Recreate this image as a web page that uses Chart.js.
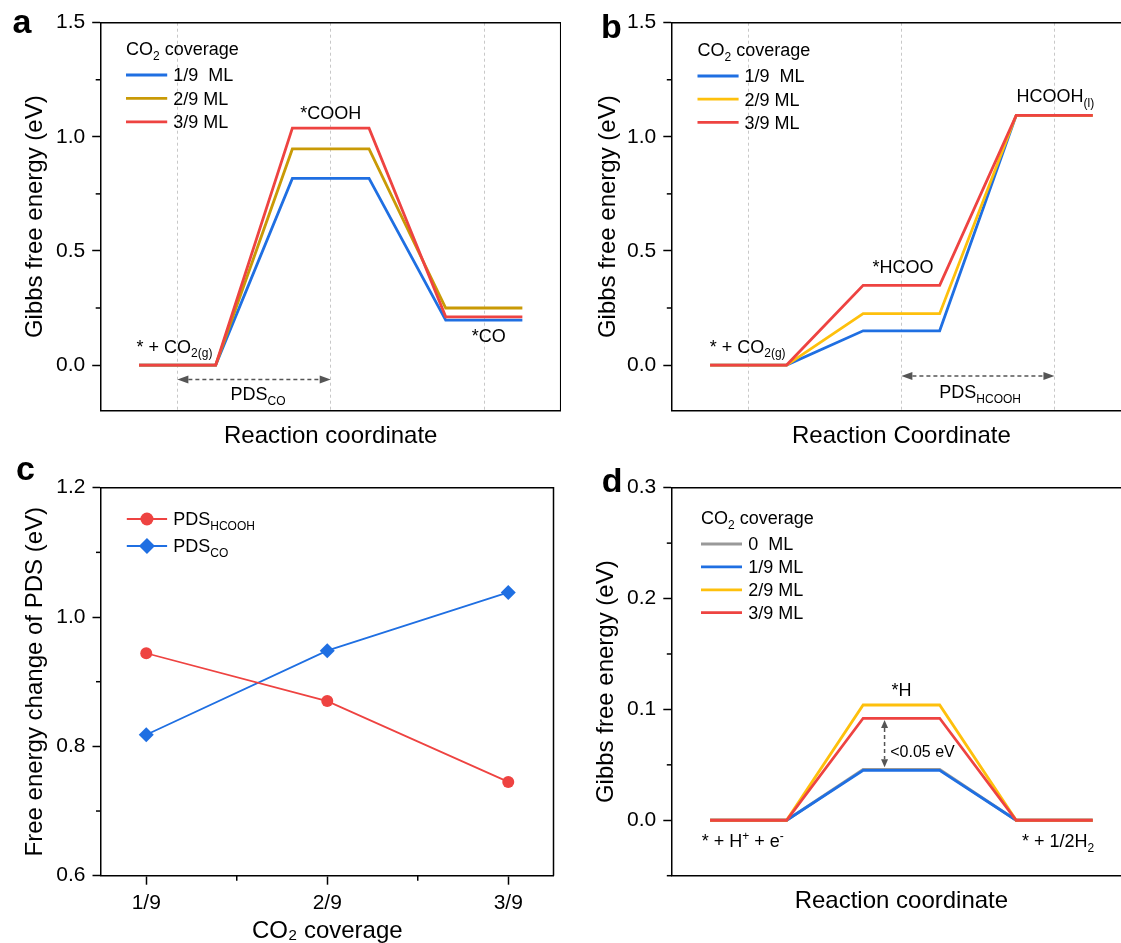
<!DOCTYPE html>
<html>
<head>
<meta charset="utf-8">
<script src="https://cdn.jsdelivr.net/npm/chart.js@4.4.0/dist/chart.umd.min.js"></script>
<style>
html, body { margin: 0; padding: 0; background: #fff; overflow: hidden; width: 1121px; height: 943px; }
canvas { position: absolute; }
</style>
</head>
<body>
<canvas id="pa" width="561" height="460" style="left:0;top:0"></canvas>
<canvas id="pb" width="571" height="460" style="left:560px;top:0"></canvas>
<canvas id="pc" width="561" height="483" style="left:0;top:460px"></canvas>
<canvas id="pd" width="571" height="483" style="left:560px;top:460px"></canvas>
<script>
// ---- data ----
// a: CO pathway, levels for * + CO2(g), *COOH, *CO
const coverLabels = ['1/9  ML', '2/9 ML', '3/9 ML'];
const coA19 = [0, 0.818, 0.197];
const coA29 = [0, 0.947, 0.250];
const coA39 = [0, 1.038, 0.211];
// b: HCOOH pathway, levels for * + CO2(g), *HCOO, HCOOH(l)
const fmB19 = [0, 0.150, 1.094];
const fmB29 = [0, 0.225, 1.094];
const fmB39 = [0, 0.349, 1.094];
// c: free energy change of the PDS vs coverage
const coverC = ['1/9', '2/9', '3/9'];
const pdsHCOOH = [0.944, 0.870, 0.745];
const pdsCO = [0.818, 0.948, 1.038];
// d: HER, levels for * + H+ + e-, *H, * + 1/2H2
const herLabels = ['0  ML', '1/9 ML', '2/9 ML', '3/9 ML'];
const herD0 = [0, 0.046, 0];
const herD19 = [0, 0.045, 0];
const herD29 = [0, 0.104, 0];
const herD39 = [0, 0.092, 0];

// ticks
const ticksAB = [0, 0.5, 1.0, 1.5];
const minorAB = [0.25, 0.75, 1.25];
const ticksC = [0.6, 0.8, 1.0, 1.2];
const minorC = [0.7, 0.9, 1.1];
const ticksD = [0, 0.1, 0.2, 0.3];
const minorD = [-0.05, 0.05, 0.15, 0.25];
const stepX = [1, 2, 3];

const FONT = '"Liberation Sans", Arial, Helvetica, sans-serif';
const BLUE = '#1f6fe2', GOLD = '#c99a06', YELLOW = '#fec00c', RED = '#ee4341', GRAY = '#999999';

Chart.defaults.font.family = FONT;
Chart.defaults.color = '#000';

// each state is a flat level from i+0.75 to i+1.25
function levels(vals) {
    return vals.flatMap((v, i) => [{x: i + 0.75, y: v}, {x: i + 1.25, y: v}]);
}

function energySet(label, vals, color, order) {
    return {label, data: levels(vals), borderColor: color, borderWidth: 2.8,
        pointRadius: 0, fill: false, tension: 0, order};
}

// "CO_{2(g)}" -> [['CO',''],['2(g)','sub']]
function parse(str) {
    const parts = [];
    const re = /([_^])\{([^}]*)\}/g;
    let last = 0, m;
    while ((m = re.exec(str))) {
        if (m.index > last) parts.push([str.slice(last, m.index), '']);
        parts.push([m[2], m[1] === '_' ? 'sub' : 'sup']);
        last = re.lastIndex;
    }
    if (last < str.length) parts.push([str.slice(last), '']);
    return parts;
}

function rich(ctx, str, x, y, size, align) {
    const small = Math.round(size * 0.68);
    const seg = parse(str).map(([t, k]) => {
        ctx.font = (k ? small : size) + 'px ' + FONT;
        return {t, k, w: ctx.measureText(t).width};
    });
    const total = seg.reduce((s, q) => s + q.w, 0);
    let cx = align === 'center' ? x - total / 2 : align === 'right' ? x - total : x;
    ctx.textAlign = 'left';
    ctx.textBaseline = 'alphabetic';
    ctx.fillStyle = '#000';
    seg.forEach(q => {
        ctx.font = (q.k ? small : size) + 'px ' + FONT;
        const dy = q.k === 'sub' ? size * 0.27 : q.k === 'sup' ? -size * 0.38 : 0;
        ctx.fillText(q.t, cx, y + dy);
        cx += q.w;
    });
}

function arrow(ctx, x1, y1, x2, y2, head, half) {
    const ang = Math.atan2(y2 - y1, x2 - x1);
    const len = Math.hypot(x2 - x1, y2 - y1);
    ctx.save();
    ctx.translate(x1, y1);
    ctx.rotate(ang);
    ctx.strokeStyle = ctx.fillStyle = '#555';
    ctx.lineWidth = 1.5;
    ctx.setLineDash([4, 3]);
    ctx.beginPath();
    ctx.moveTo(head, 0);
    ctx.lineTo(len - head, 0);
    ctx.stroke();
    ctx.setLineDash([]);
    ctx.beginPath();
    ctx.moveTo(0, 0); ctx.lineTo(head, -half); ctx.lineTo(head, half);
    ctx.fill();
    ctx.beginPath();
    ctx.moveTo(len, 0); ctx.lineTo(len - head, -half); ctx.lineTo(len - head, half);
    ctx.fill();
    ctx.restore();
}

function marker(ctx, style, x, y, r, color) {
    ctx.fillStyle = color;
    ctx.beginPath();
    if (style === 'rectRot') {
        ctx.moveTo(x - r, y); ctx.lineTo(x, y - r); ctx.lineTo(x + r, y); ctx.lineTo(x, y + r);
        ctx.closePath();
    } else {
        ctx.arc(x, y, r, 0, Math.PI * 2);
    }
    ctx.fill();
}

// per panel decorations: letter, annotations, arrows, legend, minor ticks
const decoFor = {
    pa: {
        letter: ['a', 12.5, 33],
        minorY: minorAB,
        notes: [
            {t: '*COOH', x: 2, y: 1.077, align: 'center'},
            {t: '* + CO_{2(g)}', x: 0.734, y: 0.055},
            {t: '*CO', x: 3.03, y: 0.102, align: 'center'},
            {t: 'PDS_{CO}', x: 1.526, y: -0.153, align: 'center'}
        ],
        arrows: [[1, -0.063, 2, -0.063, 11, 4]],
        legend: {title: 'CO_{2} coverage', dx: 25.3, titleDy: 32.5, dy: 52.3, gap: 23.4, len: 41.2, tx: 72.6}
    },
    pb: {
        letter: ['b', 41, 38],
        minorY: minorAB,
        notes: [
            {t: '* + CO_{2(g)}', x: 0.748, y: 0.055},
            {t: '*HCOO', x: 2.01, y: 0.4045, align: 'center'},
            {t: 'HCOOH_{(l)}', x: 2.752, y: 1.154},
            {t: 'PDS_{HCOOH}', x: 2.248, y: -0.146}
        ],
        arrows: [[2, -0.048, 3, -0.048, 11, 4]],
        legend: {title: 'CO_{2} coverage', dx: 25.7, titleDy: 33, dy: 53.3, gap: 23.2, len: 41.1, tx: 72.8}
    },
    pc: {
        letter: ['c', 16, 20],
        minorY: minorC,
        minorX: [1.5, 2.5],
        notes: [],
        arrows: [],
        legend: {dx: 25.8, dy: 31.3, gap: 27, len: 40.3, tx: 72.2, points: true}
    },
    pd: {
        letter: ['d', 41.7, 31.7],
        minorY: minorD,
        notes: [
            {t: '*H', x: 2, y: 0.112, align: 'center'},
            {t: '<0.05 eV', x: 1.927, y: 0.0571, size: 16},
            {t: '* + H^{+} + e^{-}', x: 0.695, y: -0.024},
            {t: '* + 1/2H_{2}', x: 3.26, y: -0.024, align: 'right'}
        ],
        arrows: [[1.89, 0.0905, 1.89, 0.0478, 8, 3.5]],
        legend: {title: 'CO_{2} coverage', dx: 29.2, titleDy: 36, dy: 56.3, gap: 22.9, len: 41, tx: 76.4}
    }
};

const deco = {
    id: 'deco',
    afterDraw(chart) {
        const o = decoFor[chart.canvas.id];
        const {ctx, chartArea: ca} = chart;
        const x = chart.scales.x, y = chart.scales.y;
        ctx.save();
        // top and right of the frame
        ctx.strokeStyle = '#000';
        ctx.lineWidth = 1.5;
        ctx.beginPath();
        ctx.moveTo(ca.left, ca.top);
        ctx.lineTo(ca.right, ca.top);
        ctx.lineTo(ca.right, ca.bottom);
        ctx.stroke();
        // minor ticks
        (o.minorY || []).forEach(v => {
            const py = y.getPixelForValue(v);
            ctx.beginPath(); ctx.moveTo(ca.left - 5, py); ctx.lineTo(ca.left, py); ctx.stroke();
        });
        (o.minorX || []).forEach(v => {
            const px = x.getPixelForValue(v);
            ctx.beginPath(); ctx.moveTo(px, ca.bottom); ctx.lineTo(px, ca.bottom + 5); ctx.stroke();
        });
        // panel letter
        ctx.fillStyle = '#000';
        ctx.font = 'bold 34px ' + FONT;
        ctx.textAlign = 'left';
        ctx.textBaseline = 'alphabetic';
        ctx.fillText(o.letter[0], o.letter[1], o.letter[2]);
        // annotations
        o.notes.forEach(n => rich(ctx, n.t, x.getPixelForValue(n.x), y.getPixelForValue(n.y), n.size || 18, n.align || 'left'));
        o.arrows.forEach(a => arrow(ctx, x.getPixelForValue(a[0]), y.getPixelForValue(a[1]),
            x.getPixelForValue(a[2]), y.getPixelForValue(a[3]), a[4], a[5]));
        // legend, in dataset order; dx and tx are measured from the plot's left edge
        const lg = o.legend;
        const lx = ca.left + lg.dx;
        if (lg.title) rich(ctx, lg.title, lx, ca.top + lg.titleDy, 18, 'left');
        chart.data.datasets.forEach((ds, i) => {
            const ly = ca.top + lg.dy + i * lg.gap;
            ctx.strokeStyle = ds.borderColor;
            ctx.lineWidth = lg.points ? 1.8 : 2.8;
            ctx.beginPath(); ctx.moveTo(lx, ly); ctx.lineTo(lx + lg.len, ly); ctx.stroke();
            if (lg.points) marker(ctx, ds.pointStyle, lx + lg.len / 2, ly, ds.pointStyle === 'rectRot' ? 8 : 6.5, ds.borderColor);
            rich(ctx, ds.label, ca.left + lg.tx, ly + 6.4, 18, 'left');
        });
        ctx.restore();
    }
};

function yAxis(min, max, ticks, title, width, titlePad) {
    return {
        type: 'linear', min, max,
        afterBuildTicks: s => { s.ticks = ticks.map(v => ({value: v})); },
        afterFit: s => { s.width = width; s.paddingTop = 0; s.paddingBottom = 0; },
        ticks: {color: '#000', font: {size: 21}, padding: 7, autoSkip: false, callback: v => v.toFixed(1)},
        grid: {drawOnChartArea: false, tickLength: 8.5, tickColor: '#000', tickWidth: 1.5},
        border: {color: '#000', width: 1.5},
        title: {display: true, text: title, color: '#000', font: {size: 24}, padding: {top: titlePad, bottom: 0}}
    };
}

function xEnergy(showGrid, title, titlePad) {
    return {
        type: 'linear', min: 0.5, max: 3.5,
        afterBuildTicks: s => { s.ticks = stepX.map(v => ({value: v})); },
        afterFit: s => { s.height = s.chart.canvas.id === 'pd' ? 67.3 : 49.3; s.paddingLeft = 0; s.paddingRight = 0; },
        ticks: {display: false},
        grid: {display: showGrid, drawTicks: false, color: '#c8c8c8', lineWidth: 1},
        border: {color: '#000', width: 1.5, dash: [3, 3]},
        title: {display: true, text: title, color: '#000', font: {size: 24}, padding: {top: 0, bottom: titlePad}}
    };
}

function baseOptions(padTop, padRight, scales) {
    return {
        responsive: false,
        animation: false,
        events: [],
        layout: {padding: {top: padTop, right: padRight, left: 0, bottom: 0}},
        plugins: {legend: {display: false}, tooltip: {enabled: false}},
        scales
    };
}

// a
new Chart(document.getElementById('pa'), {
    type: 'line',
    data: {datasets: [
        energySet(coverLabels[0], coA19, BLUE, 2),
        energySet(coverLabels[1], coA29, GOLD, 1),
        energySet(coverLabels[2], coA39, RED, 0)
    ]},
    options: baseOptions(22.7, 0.3, {
        x: xEnergy(true, 'Reaction coordinate', 8.9),
        y: yAxis(-0.2, 1.5, ticksAB, 'Gibbs free energy (eV)', 100.7, 21.3)
    }),
    plugins: [deco]
});

// b
new Chart(document.getElementById('pb'), {
    type: 'line',
    data: {datasets: [
        energySet(coverLabels[0], fmB19, BLUE, 2),
        energySet(coverLabels[1], fmB29, YELLOW, 1),
        energySet(coverLabels[2], fmB39, RED, 0)
    ]},
    options: baseOptions(22.7, 0, {
        x: xEnergy(true, 'Reaction Coordinate', 8.9),
        y: yAxis(-0.2, 1.5, ticksAB, 'Gibbs free energy (eV)', 111.8, 33.6)
    }),
    plugins: [deco]
});

// c
new Chart(document.getElementById('pc'), {
    type: 'line',
    data: {datasets: [
        {label: 'PDS_{HCOOH}', data: pdsHCOOH.map((v, i) => ({x: i + 1, y: v})),
            borderColor: RED, backgroundColor: RED, borderWidth: 1.8,
            pointStyle: 'circle', pointRadius: 6, pointBackgroundColor: RED, pointBorderWidth: 0, tension: 0},
        {label: 'PDS_{CO}', data: pdsCO.map((v, i) => ({x: i + 1, y: v})),
            borderColor: BLUE, backgroundColor: BLUE, borderWidth: 1.8,
            pointStyle: 'rectRot', pointRadius: 7.5, pointBackgroundColor: BLUE, pointBorderWidth: 0, tension: 0}
    ]},
    options: baseOptions(27.7, 1, {
        x: {
            type: 'linear', min: 0.75, max: 3.25,
            afterBuildTicks: s => { s.ticks = stepX.map(v => ({value: v})); },
            afterFit: s => { s.height = 67.3; s.paddingLeft = 0; s.paddingRight = 0; },
            ticks: {color: '#000', font: {size: 21}, padding: 6, maxRotation: 0, autoSkip: false,
                callback: (v, i) => coverC[i]},
            grid: {drawOnChartArea: false, tickLength: 9, tickColor: '#000', tickWidth: 1.5},
            border: {color: '#000', width: 1.5},
            title: {display: true, text: 'CO₂ coverage', color: '#000', font: {size: 24}, padding: {top: 0, bottom: -3.1}}
        },
        y: yAxis(0.6, 1.2, ticksC, 'Free energy change of PDS (eV)', 101, 21.3)
    }),
    plugins: [deco]
});

// d
new Chart(document.getElementById('pd'), {
    type: 'line',
    data: {datasets: [
        energySet(herLabels[0], herD0, GRAY, 3),
        energySet(herLabels[1], herD19, BLUE, 2),
        energySet(herLabels[2], herD29, YELLOW, 1),
        energySet(herLabels[3], herD39, RED, 0)
    ]},
    options: baseOptions(27.7, 0, {
        x: xEnergy(false, 'Reaction coordinate', 26.9),
        y: yAxis(-0.05, 0.3, ticksD, 'Gibbs free energy (eV)', 111.8, 32)
    }),
    plugins: [deco]
});
</script>
</body>
</html>
